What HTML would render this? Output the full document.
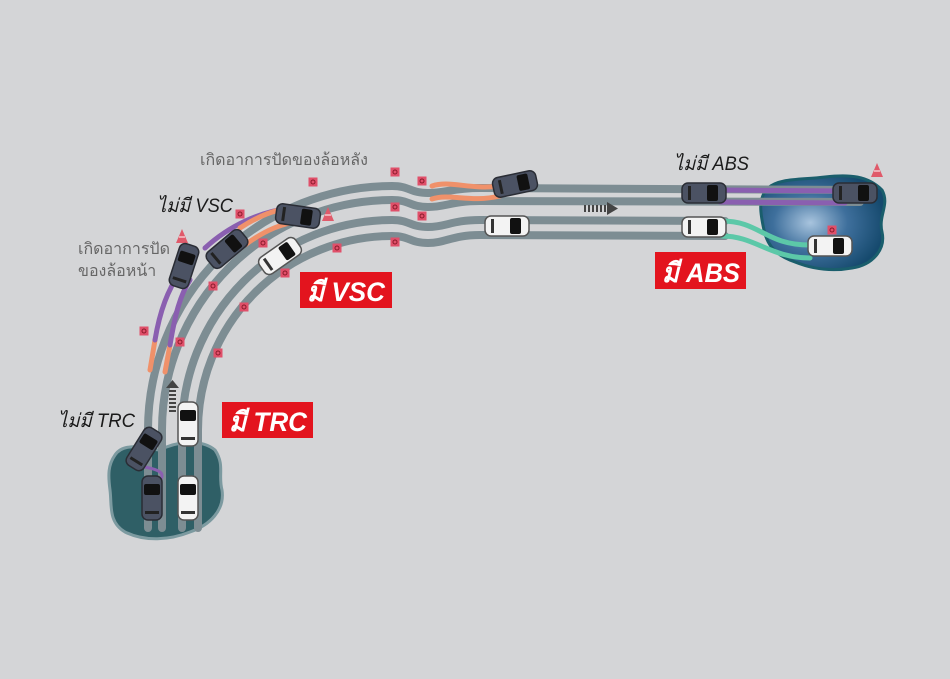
<!DOCTYPE html>
<html><head><meta charset="utf-8"><style>
html,body{margin:0;padding:0;background:#d4d5d7;}
svg{display:block}
.th{font-family:"Liberation Sans","Noto Sans CJK SC",sans-serif;}
</style></head><body>
<svg width="950" height="679" viewBox="0 0 950 679" xmlns="http://www.w3.org/2000/svg">
<defs>
<radialGradient id="pg" cx="0.4" cy="0.5" r="0.6">
<stop offset="0" stop-color="#a8c4de"/><stop offset="0.5" stop-color="#3e6f9c"/><stop offset="1" stop-color="#164a6e"/>
</radialGradient>
<g id="cd"><rect x="-22" y="-10" width="44" height="20" rx="6" fill="#4b5263" stroke="#2a2d35" stroke-width="1.5"/><rect x="3" y="-8" width="11" height="16" rx="2" fill="#111"/><rect x="-16" y="-7" width="3" height="14" fill="#222"/></g>
<g id="cw"><rect x="-22" y="-10" width="44" height="20" rx="6" fill="#f3f3f3" stroke="#555" stroke-width="1.5"/><rect x="3" y="-8" width="11" height="16" rx="2" fill="#111"/><rect x="-16" y="-7" width="3" height="14" fill="#333"/></g>
<g id="sq"><rect x="-4.5" y="-4.5" width="9" height="9" fill="#e0506a"/><circle r="2" fill="none" stroke="#8a1a2a" stroke-width="1"/></g>
<g id="cone"><polygon points="0,-9 6,5 -6,5" fill="#e05a6a"/><line x1="-3" y1="-1" x2="3" y2="-1" stroke="#fff" stroke-width="1"/></g>
</defs>
<path d="M115,455 C125,440 150,450 160,450 C175,442 200,438 215,450 C225,465 218,475 222,490 C225,510 210,525 190,532 C170,540 145,542 125,532 C108,522 112,505 110,490 C108,475 108,465 115,455Z" fill="#2f5f66" stroke="#7c9aa0" stroke-width="3"/>
<path d="M768,188 C780,178 800,180 825,177 C850,174 868,176 882,190 C890,205 878,215 882,232 C886,250 872,265 852,268 C830,272 810,268 795,262 C778,256 768,248 764,230 C760,212 758,198 768,188Z" fill="url(#pg)" stroke="#1a5e6c" stroke-width="3"/>
<g fill="none" stroke="#7d8d93" stroke-width="8" stroke-linecap="round">
<path d="M148,528 L148,430 A244,244 0 0 1 392,186 C410,186 410,193 428,193 C446,193 452,188 480,188 L860,190"/>
<path d="M162,528 L162,430 A230,230 0 0 1 392,200 C410,200 410,207 428,207 C446,207 452,201 480,201 L860,202"/>
<path d="M182,528 L182,430 A210,210 0 0 1 392,220 C410,220 410,227 428,227 C446,227 452,220 480,220 L725,221"/>
<path d="M198,528 L198,430 A194,194 0 0 1 392,236 C410,236 410,243 428,243 C446,243 452,235 480,235 L725,236"/>
</g>
<g fill="none" stroke-width="5" stroke-linecap="round">
<path d="M150,370 L155,340" stroke="#f0916a"/>
<path d="M165,372 L170,345" stroke="#f0916a"/>
<path d="M155,340 C160,310 168,290 180,272" stroke="#8a5fb0"/>
<path d="M170,345 C175,315 180,295 190,280" stroke="#8a5fb0"/>
<path d="M205,248 C230,225 260,212 290,208" stroke="#8a5fb0"/>
<path d="M240,228 C260,215 275,210 290,208" stroke="#f0916a"/>
<path d="M245,245 C265,230 285,222 300,222" stroke="#f0916a"/>
<path d="M432,186 C450,180 470,190 500,186" stroke="#f0916a"/>
<path d="M432,199 C450,193 470,203 500,196" stroke="#f0916a"/>
<path d="M720,190 L845,191" stroke="#8a5fb0"/>
<path d="M720,202 L845,203" stroke="#8a5fb0"/>
<path d="M722,221 C760,221 765,245 810,245" stroke="#5cc8a8"/>
<path d="M722,236 C755,236 770,258 810,258" stroke="#5cc8a8"/>
<path d="M135,458 C135,470 150,465 160,472 C168,478 150,488 155,490" stroke="#8a5fb0" stroke-width="3"/>
</g>
<use href="#sq" x="395" y="172"/><use href="#sq" x="422" y="181"/><use href="#sq" x="395" y="207"/><use href="#sq" x="422" y="216"/><use href="#sq" x="395" y="242"/>
<use href="#sq" x="313" y="182"/><use href="#sq" x="240" y="214"/><use href="#sq" x="263" y="243"/><use href="#sq" x="337" y="248"/><use href="#sq" x="213" y="286"/><use href="#sq" x="285" y="273"/><use href="#sq" x="244" y="307"/><use href="#sq" x="144" y="331"/><use href="#sq" x="180" y="342"/><use href="#sq" x="218" y="353"/><use href="#sq" x="832" y="230"/>
<use href="#cone" x="182" y="238"/><use href="#cone" x="328" y="216"/><use href="#cone" x="877" y="172"/>
<g fill="#444"><rect x="169" y="390" width="7" height="2"/><rect x="169" y="394" width="7" height="2"/><rect x="169" y="398" width="7" height="2"/><rect x="169" y="402" width="7" height="2"/><rect x="169" y="406" width="7" height="2"/><rect x="169" y="410" width="7" height="2"/><polygon points="166,388 172.5,380 179,388"/>
<rect x="584" y="205" width="2" height="7"/><rect x="588" y="205" width="2" height="7"/><rect x="592" y="205" width="2" height="7"/><rect x="596" y="205" width="2" height="7"/><rect x="600" y="205" width="2" height="7"/><rect x="604" y="205" width="2" height="7"/><polygon points="607,202 618,208.5 607,215"/></g>
<use href="#cd" transform="translate(144,449) rotate(-58)"/>
<use href="#cd" transform="translate(152,498) rotate(-90)"/>
<use href="#cw" transform="translate(188,424) rotate(-90)"/>
<use href="#cw" transform="translate(188,498) rotate(-90)"/>
<use href="#cd" transform="translate(184,266) rotate(-72)"/>
<use href="#cd" transform="translate(227,249) rotate(-40)"/>
<use href="#cd" transform="translate(298,216) rotate(8)"/>
<use href="#cw" transform="translate(280,256) rotate(-35)"/>
<use href="#cd" transform="translate(515,184) rotate(-12)"/>
<use href="#cw" transform="translate(507,226)"/>
<use href="#cd" transform="translate(704,193)"/>
<use href="#cw" transform="translate(704,227)"/>
<use href="#cd" transform="translate(855,193)"/>
<use href="#cw" transform="translate(830,246)"/>
<rect x="300" y="272" width="92" height="36" fill="#e3141e"/>
<rect x="222" y="402" width="91" height="36" fill="#e3141e"/>
<rect x="655" y="252" width="91" height="37" fill="#e3141e"/>
<g class="th" font-style="italic" font-weight="bold" fill="#fff" font-size="27">
<text x="307" y="301" textLength="78" lengthAdjust="spacingAndGlyphs">มี VSC</text>
<text x="229" y="431" textLength="78" lengthAdjust="spacingAndGlyphs">มี TRC</text>
<text x="662" y="282" textLength="78" lengthAdjust="spacingAndGlyphs">มี ABS</text></g>
<g class="th" font-style="italic" fill="#1a1a1a" font-size="19" font-weight="500">
<text x="157" y="212" textLength="76" lengthAdjust="spacingAndGlyphs">ไม่มี VSC</text>
<text x="58" y="427" textLength="77" lengthAdjust="spacingAndGlyphs">ไม่มี TRC</text>
<text x="674" y="170" textLength="75" lengthAdjust="spacingAndGlyphs">ไม่มี ABS</text></g>
<g class="th" fill="#666" font-size="16">
<text x="200" y="165">เกิดอาการปัดของล้อหลัง</text><text x="78" y="254">เกิดอาการปัด</text><text x="78" y="276">ของล้อหน้า</text></g>
</svg>
</body></html>
